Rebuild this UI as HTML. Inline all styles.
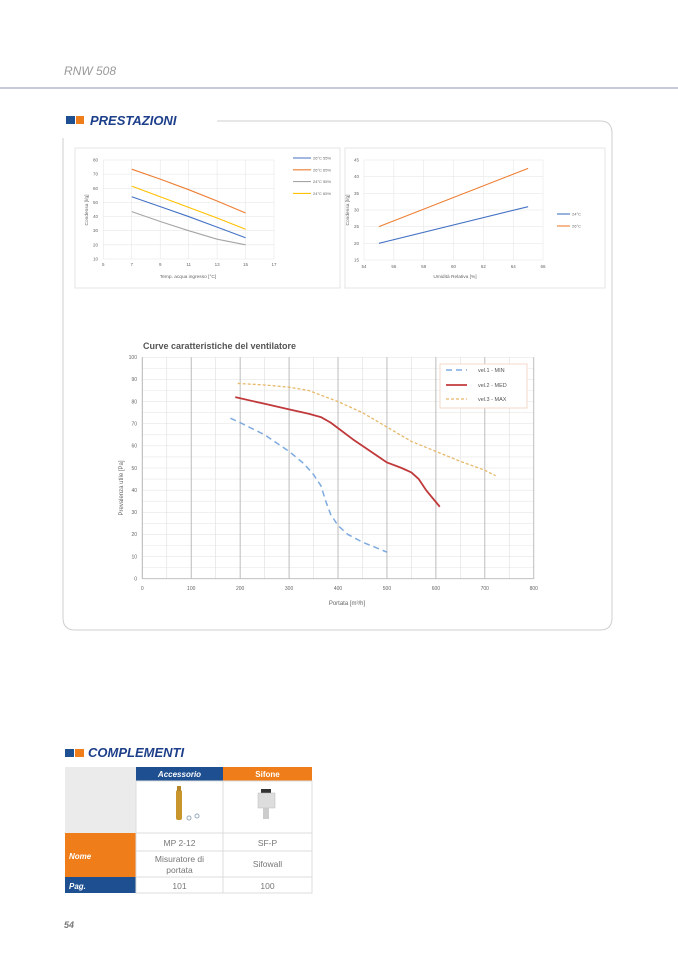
<!DOCTYPE html>
<html><head><meta charset="utf-8"><style>
html,body{margin:0;padding:0;background:#fff;}
svg{display:block;font-family:"Liberation Sans",sans-serif;}
</style></head><body>
<svg id="s" width="678" height="959" viewBox="0 0 678 959" xmlns="http://www.w3.org/2000/svg">
<text x="64" y="75" font-size="12" font-style="italic" fill="#999">RNW 508</text>
<rect x="0" y="87" width="678" height="2" fill="#c5cbdc"/>
<rect x="66" y="116" width="9" height="8" fill="#1d4f91"/><rect x="76" y="116" width="8" height="8" fill="#ee7d1a"/>
<text x="90" y="125" font-size="13" font-weight="bold" font-style="italic" fill="#1d3f8a">PRESTAZIONI</text>
<path d="M217,121 H600 Q612,121 612,133 V618 Q612,630 600,630 H75 Q63,630 63,618 V138" fill="none" stroke="#cfcfcf" stroke-width="1"/>
<rect x="75" y="148" width="265" height="140" fill="#fff" stroke="#e4e4e4"/>
<rect x="345" y="148" width="260" height="140" fill="#fff" stroke="#e4e4e4"/>
<g id="g"></g>
<text x="143" y="349" font-size="9" font-weight="bold" fill="#555">Curve caratteristiche del ventilatore</text>
<text x="347" y="605" font-size="6" fill="#666" text-anchor="middle">Portata [m³/h]</text>
<text transform="translate(123,488) rotate(-90)" font-size="6" fill="#666" text-anchor="middle">Prevalenza utile [Pa]</text>
<rect x="440" y="364" width="87" height="44" fill="#fff" stroke="#f2d9c9"/>
<line x1="446" y1="370" x2="467" y2="370" stroke="#7eaadf" stroke-width="1.5" stroke-dasharray="6,4"/>
<text x="478" y="372" font-size="5.5" fill="#555">vel.1 - MIN</text>
<line x1="446" y1="385" x2="467" y2="385" stroke="#c0393b" stroke-width="1.8"/>
<text x="478" y="387" font-size="5.5" fill="#555">vel.2 - MED</text>
<line x1="446" y1="399" x2="467" y2="399" stroke="#e7b86a" stroke-width="1.3" stroke-dasharray="3,2"/>
<text x="478" y="401" font-size="5.5" fill="#555">vel.3 - MAX</text>
<rect x="65" y="749" width="9" height="8" fill="#1d4f91"/><rect x="75" y="749" width="9" height="8" fill="#ee7d1a"/>
<text x="88" y="757" font-size="13" font-weight="bold" font-style="italic" fill="#1d3f8a">COMPLEMENTI</text>
<rect x="65" y="767" width="71" height="66" fill="#ebebeb"/>
<rect x="136" y="767" width="87" height="14" fill="#1d4f91"/>
<rect x="223" y="767" width="89" height="14" fill="#ee7d1a"/>
<text x="179.5" y="777" font-size="8" font-weight="bold" font-style="italic" fill="#fff" text-anchor="middle">Accessorio</text>
<text x="267.5" y="777" font-size="8" font-weight="bold" fill="#fff" text-anchor="middle">Sifone</text>
<rect x="65" y="833" width="71" height="44" fill="#ee7d1a"/>
<rect x="65" y="877" width="71" height="16" fill="#1d4f91"/>
<text x="69" y="859" font-size="8" font-weight="bold" font-style="italic" fill="#fff">Nome</text>
<text x="69" y="889" font-size="8" font-weight="bold" font-style="italic" fill="#fff">Pag.</text>
<g stroke="#dcdcdc" fill="none"><rect x="136" y="781" width="176" height="112"/><line x1="223" y1="781" x2="223" y2="893"/><line x1="136" y1="833" x2="312" y2="833"/><line x1="136" y1="851" x2="312" y2="851"/><line x1="136" y1="877" x2="312" y2="877"/></g>
<g font-size="8.5" fill="#777" text-anchor="middle">
<text x="179.5" y="846">MP 2-12</text><text x="267.5" y="846">SF-P</text>
<text x="179.5" y="862">Misuratore di</text><text x="179.5" y="873">portata</text><text x="267.5" y="867">Sifowall</text>
<text x="179.5" y="889">101</text><text x="267.5" y="889">100</text></g>
<rect x="176" y="790" width="6" height="30" rx="2" fill="#c9962e"/><rect x="177" y="786" width="4" height="5" fill="#b8862a"/>
<circle cx="189" cy="818" r="2" fill="none" stroke="#9ab" /><circle cx="197" cy="816" r="2" fill="none" stroke="#9ab"/>
<rect x="261" y="789" width="10" height="4" fill="#333"/><rect x="258" y="793" width="17" height="15" fill="#ddd" stroke="#bbb" stroke-width=".5"/><rect x="263" y="808" width="6" height="11" fill="#ccc"/>
<text x="64" y="928" font-size="9" font-weight="bold" font-style="italic" fill="#777">54</text>
</svg>
<script>
var g=document.getElementById('g'),h='';
function L(x1,y1,x2,y2,c,w,d){h+='<line x1="'+x1+'" y1="'+y1+'" x2="'+x2+'" y2="'+y2+'" stroke="'+c+'" stroke-width="'+(w||0.5)+'"'+(d?' stroke-dasharray="'+d+'"':'')+'/>';}
function T(x,y,s,f,a){h+='<text x="'+x+'" y="'+y+'" font-size="'+f+'" fill="#666" text-anchor="'+(a||'middle')+'">'+s+'</text>';}
function P(pts,c,w,d){h+='<polyline fill="none" points="'+pts.map(p=>p.join(',')).join(' ')+'" stroke="'+c+'" stroke-width="'+w+'"'+(d?' stroke-dasharray="'+d+'"':'')+' stroke-linejoin="round"/>';}
var X1=v=>103.3+(v-5)*14.225,Y1=v=>160+(80-v)*1.414;
for(var v=10;v<=80;v+=10){L(103.3,Y1(v),274,Y1(v),'#e3e3e3');T(98,Y1(v)+1.5,v,4.5,'end');}
for(var v=5;v<=17;v+=2){L(X1(v),160,X1(v),259,'#e3e3e3');T(X1(v),266,v,4.5);}
T(188,278,'Temp. acqua ingresso [°C]',4.8);
h+='<text transform="translate(88,210) rotate(-90)" font-size="4.8" fill="#666" text-anchor="middle">Condensa [l/g]</text>';
var s1=[['#4472c4',[54,47,40,32.5,25],'26°C 55%'],['#ed7d31',[73.5,66.5,59,51,42.5],'26°C 65%'],['#a5a5a5',[43.5,36.5,30,24,20],'24°C 55%'],['#ffc000',[61.5,54,46.5,39,31],'24°C 65%']];
s1.forEach((s,i)=>{P(s[1].map((y,j)=>[X1(7+2*j),Y1(y)]),s[0],1.1);var ly=158+i*11.8;L(293,ly,311,ly,s[0],1.1);T(313,ly+1.5,s[2],4,'start');});
var X2=v=>364+(v-54)*14.92,Y2=v=>160+(45-v)*3.333;
for(var v=15;v<=45;v+=5){L(364,Y2(v),543,Y2(v),'#e3e3e3');T(359,Y2(v)+1.5,v,4.5,'end');}
for(var v=54;v<=66;v+=2){L(X2(v),160,X2(v),260,'#e3e3e3');T(X2(v),268,v,4.5);}
T(455,278,'Umidità Relativa [%]',4.8);
h+='<text transform="translate(349,210) rotate(-90)" font-size="4.8" fill="#666" text-anchor="middle">Condensa [l/g]</text>';
P([[X2(55),Y2(20)],[X2(65),Y2(31)]],'#4472c4',1.1);P([[X2(55),Y2(25)],[X2(65),Y2(42.5)]],'#ed7d31',1.1);
L(557,214,570,214,'#4472c4',1.1);T(572,215.5,'24°C',4,'start');L(557,226,570,226,'#ed7d31',1.1);T(572,227.5,'26°C',4,'start');
var X=v=>142.3+v*0.4893,Y=v=>578.7-v*2.214;
for(var v=0;v<=100;v+=5){L(142.3,Y(v),533.7,Y(v),'#e6e6e6',0.6);}
for(var v=0;v<=800;v+=50){L(X(v),357.3,X(v),578.7,v%100?'#dedede':'#b5b5b5',v%100?0.6:0.9);}
L(142.3,357.3,142.3,578.7,'#bbb',0.8);L(142.3,578.7,533.7,578.7,'#bbb',0.8);
for(var v=0;v<=100;v+=10)T(137,Y(v)+1.8,v,5,'end');
for(var v=0;v<=800;v+=100)T(X(v),590,v,5);
var mn=[[180,72.5],[200,70.5],[250,65],[300,57.5],[330,52],[350,47],[365,42],[375,35],[385,29],[400,24],[420,20],[450,16.5],[500,12]];
var md=[[190,82],[250,79],[300,76.5],[340,74.5],[365,73],[385,70.5],[400,68],[430,63],[470,57],[500,52.5],[530,50],[550,48],[565,45],[580,40],[608,32.5]];
var mx=[[195,88.2],[250,87.5],[300,86.5],[340,85],[400,80],[450,75],[500,68.5],[550,62],[600,57.5],[650,53],[700,49],[722,46.5]];
P(mx.map(p=>[X(p[0]),Y(p[1])]),'#e7b86a',1.3,'3,2');
P(md.map(p=>[X(p[0]),Y(p[1])]),'#c0393b',1.8);
P(mn.map(p=>[X(p[0]),Y(p[1])]),'#7eaadf',1.5,'6,4');
g.innerHTML=h;
</script>
</body></html>
